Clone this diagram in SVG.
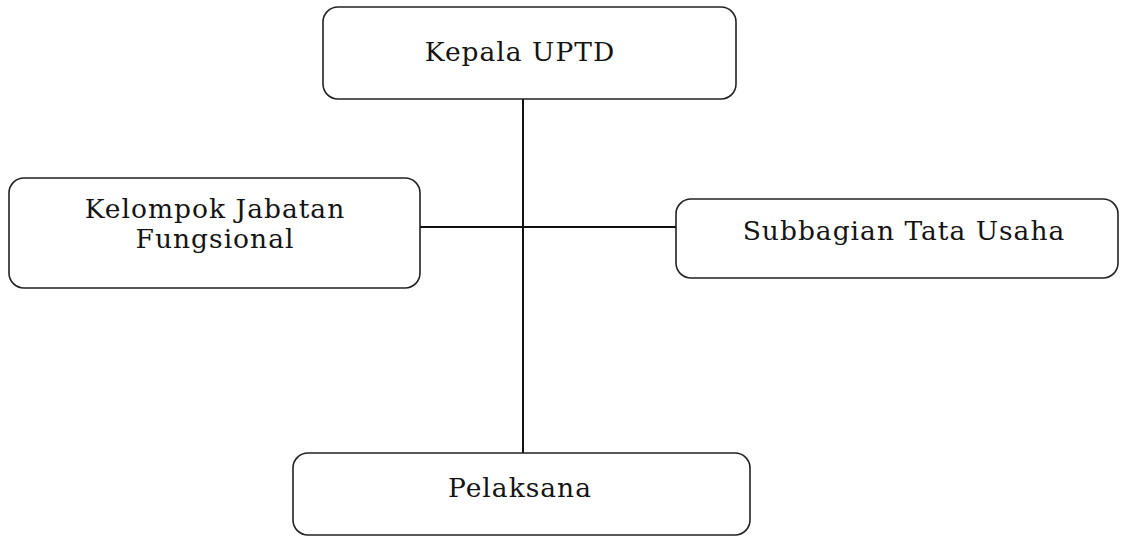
<svg xmlns="http://www.w3.org/2000/svg" width="1125" height="537" viewBox="0 0 1125 537">
<style>
.box{fill:#fff;stroke:#222;stroke-width:1.6}
.lbl{font-family:"DejaVu Serif","Liberation Serif",serif;font-size:26.5px;letter-spacing:1px;fill:#141414;text-anchor:middle}
.conn{stroke:#111;stroke-width:2;fill:none}
</style>
<rect width="1125" height="537" fill="#fff"/>
<g id="connectors">
<line class="conn" x1="523" y1="99" x2="523" y2="453"/>
<line class="conn" x1="420" y1="227" x2="676" y2="227"/>
</g>
<g id="kepala">
<rect class="box" x="323" y="7" width="413" height="92" rx="15"/>
<text class="lbl" x="520" y="61">Kepala UPTD</text>
</g>
<g id="kelompok">
<rect class="box" x="9" y="178" width="411" height="110" rx="15"/>
<text class="lbl" x="215" y="218">Kelompok Jabatan</text>
<text class="lbl" x="215" y="248">Fungsional</text>
</g>
<g id="subbagian">
<rect class="box" x="676" y="199" width="442" height="79" rx="15"/>
<text class="lbl" x="904" y="240">Subbagian Tata Usaha</text>
</g>
<g id="pelaksana">
<rect class="box" x="293" y="453" width="457" height="82" rx="15"/>
<text class="lbl" x="520" y="497">Pelaksana</text>
</g>
</svg>
